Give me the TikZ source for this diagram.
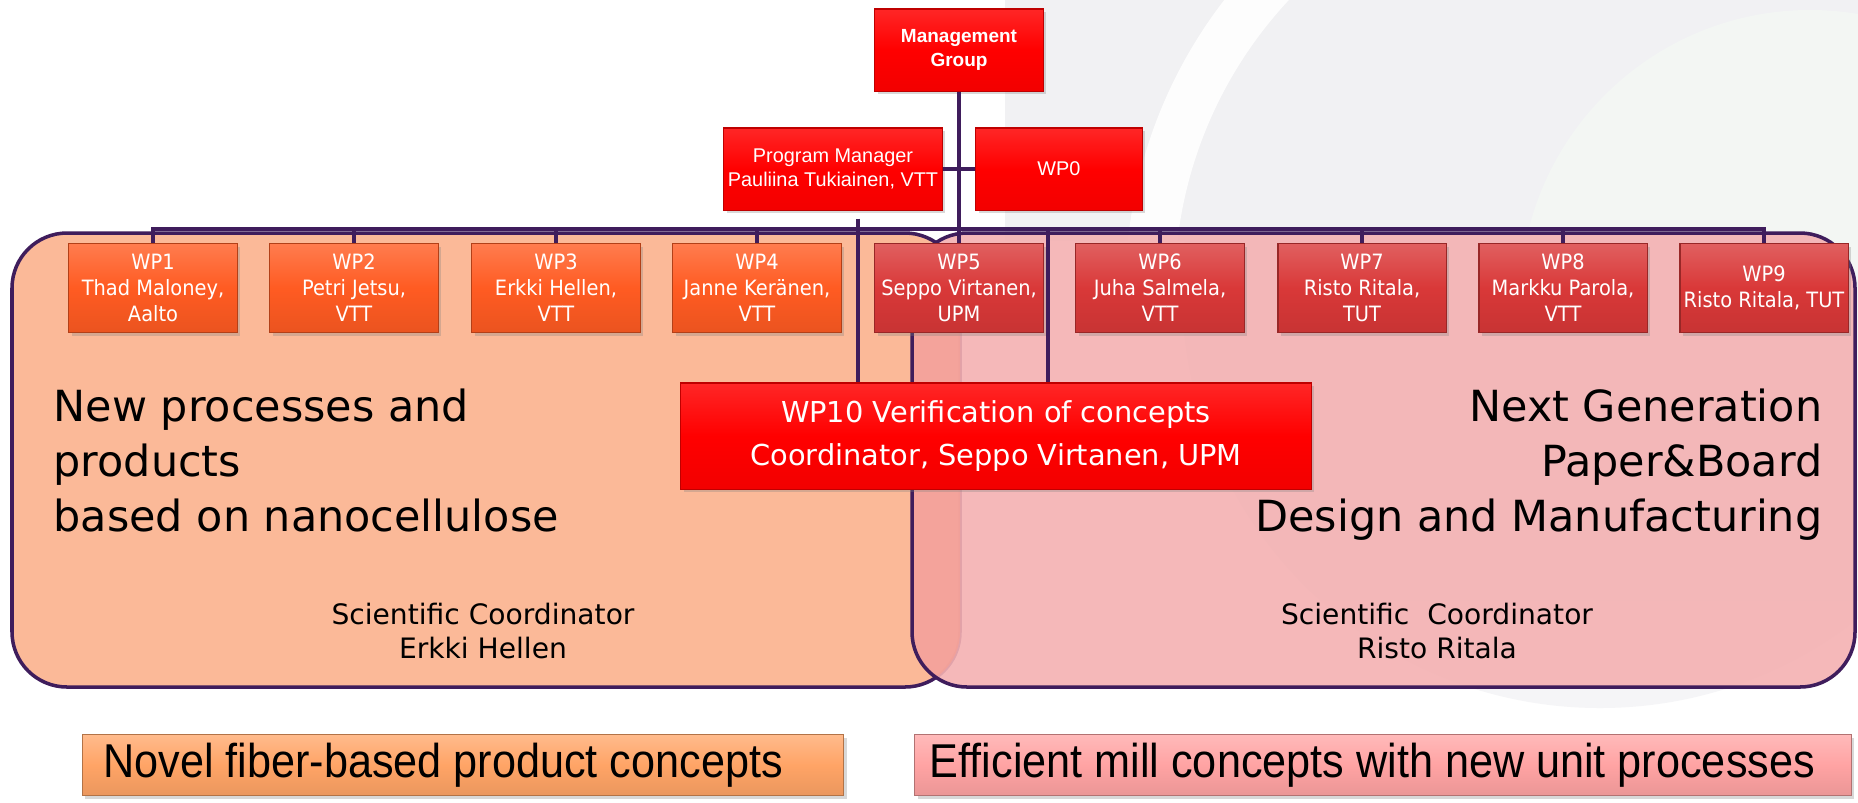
\documentclass[tikz,border=0pt]{standalone}
\usepackage{fontspec}
\setmainfont{DejaVu Sans}
\newfontfamily\arialfont{Liberation Sans}
\newfontfamily\narrowfont[FakeStretch=0.91]{Liberation Sans}
\newfontfamily\wpfont[FakeStretch=0.92]{DejaVu Sans}
\usetikzlibrary{calc, shadows, positioning}

\definecolor{linkpurple}{HTML}{3F1D5C}
\definecolor{leftfill}{HTML}{FBB998}
\definecolor{rightfill}{HTML}{F4B1B2}
\definecolor{overlapfill}{HTML}{F5A096}
\definecolor{bggrey}{HTML}{F1F1F3}
\definecolor{bgpale}{HTML}{F5F5F7}
\definecolor{bggreen}{HTML}{F3F6F3}
\definecolor{wporange}{HTML}{FF5B22}
\definecolor{wpcrimson}{HTML}{D93838}
\definecolor{sandbox}{HTML}{FFA466}
\definecolor{pinkbox}{HTML}{FFA3A3}

\tikzset{
  boxshadow/.style={drop shadow={opacity=0.3, shadow xshift=0.9pt, shadow yshift=-0.9pt}},
  redbox/.style={boxshadow, draw=red!75!black, line width=0.3pt,
    top color=red!85!white, bottom color=red!95!black, middle color=red,
    text=white, align=center, inner sep=0pt},
  wpbox/.style={boxshadow, line width=0.3pt, text=white, align=center,
    inner sep=0pt, minimum width=1.68cm, minimum height=0.89cm,
    font=\wpfont\fontsize{6}{7.4}\selectfont},
  wpleft/.style={wpbox, draw=wporange!70!black, top color=wporange!80!white,
    bottom color=wporange!92!black, middle color=wporange},
  wpright/.style={wpbox, draw=wpcrimson!70!black, top color=wpcrimson!80!white,
    bottom color=wpcrimson!92!black, middle color=wpcrimson},
  themebox/.style={boxshadow, line width=0.3pt, inner ysep=0pt,
    minimum height=0.61cm, font=\narrowfont\fontsize{13.5}{15}\selectfont},
  link/.style={draw=linkpurple, line width=1.1pt},
  region/.style={draw=linkpurple, line width=1pt, rounded corners=0.55cm}
}

\begin{document}
\begin{tikzpicture}[x=0.01cm, y=-0.01cm]
    \useasboundingbox (0,0) rectangle (1858,802);

    % Hintergrund
    \fill[white] (0,0) rectangle (1858,802);
    \begin{scope}
        \clip (1005,0) rectangle (1858,240);
        \fill[bggrey] (1600,280) circle (700);
    \end{scope}
    \begin{scope}
        \clip (0,0) rectangle (1858,802);
        \draw[white, line width=14pt, opacity=0.9] (1600,290) circle (450);
        \fill[bgpale] (1600,290) circle (418);
        \begin{scope}
            \clip (0,0) rectangle (1858,600);
            \fill[bggrey] (1600,290) circle (418);
        \end{scope}
        \fill[bggreen] (1810,300) circle (290);
    \end{scope}

    % Bereiche
    \path[region, fill=leftfill] (12,233) rectangle (960,687);
    \fill[rightfill, opacity=0.9, rounded corners=0.55cm] (912,233) rectangle (1855,687);
    \begin{scope}
        \clip[rounded corners=0.55cm] (12,233) rectangle (960,687);
        \fill[overlapfill, opacity=0.8, rounded corners=0.55cm] (912,233) rectangle (1855,687);
    \end{scope}
    \draw[region] (912,233) rectangle (1855,687);

    % Leitung
    \node[redbox, minimum width=1.68cm, minimum height=0.82cm,
          font=\arialfont\bfseries\fontsize{5.4}{6.8}\selectfont]
        (mg) at (959,50) {Management\\Group};
    \node[redbox, minimum width=2.18cm, minimum height=0.82cm,
          font=\arialfont\fontsize{5.65}{6.9}\selectfont]
        (pm) at (833,169) {Program Manager\\Pauliina Tukiainen, VTT};
    \node[redbox, minimum width=1.66cm, minimum height=0.82cm,
          font=\arialfont\fontsize{5.65}{6.9}\selectfont]
        (wp0) at (1059,169) {WP0};

    % Arbeitspakete
    \node[wpleft]  (wp1) at (153,288)  {WP1\\Thad Maloney,\\Aalto};
    \node[wpleft]  (wp2) at (354,288)  {WP2\\Petri Jetsu,\\VTT};
    \node[wpleft]  (wp3) at (556,288)  {WP3\\Erkki Hellen,\\VTT};
    \node[wpleft]  (wp4) at (757,288)  {WP4\\Janne Keränen,\\VTT};
    \node[wpright] (wp5) at (959,288)  {WP5\\Seppo Virtanen,\\UPM};
    \node[wpright] (wp6) at (1160,288) {WP6\\Juha Salmela,\\VTT};
    \node[wpright] (wp7) at (1362,288) {WP7\\Risto Ritala,\\TUT};
    \node[wpright] (wp8) at (1563,288) {WP8\\Markku Parola,\\VTT};
    \node[wpright] (wp9) at (1764,288) {WP9\\Risto Ritala, TUT};

    \node[redbox, minimum width=6.3cm, minimum height=1.06cm,
          font=\fontsize{8.2}{12}\selectfont]
        (wp10) at (996,436) {WP10 Verification of concepts\\Coordinator, Seppo Virtanen, UPM};

    % Verbindungen
    \coordinate (bus) at (0,229);
    \coordinate (pmdrop) at ($(pm.south)+(25,8)$);
    \coordinate (wpdrop) at ($(wp10.north)+(52,0)$);
    \draw[link] (mg) -- (wp5);
    \draw[link] (pm) -- (wp0);
    \draw[link] (wp1.north) -- (wp1.north |- bus) -- (wp9.north |- bus) -- (wp9.north);
    \foreach \i in {2,3,4,6,7,8}
        \draw[link] (wp\i.north) -- (wp\i.north |- bus);
    \draw[link] (pmdrop) -- (pmdrop |- wp10.north);
    \draw[link] (wpdrop |- bus) -- (wpdrop);

    % Texte
    \node[anchor=north west, align=left, inner sep=0pt,
          font=\fontsize{12.2}{15.6}\selectfont]
        (newproc) at (53,388) {New processes and\\products\\based on nanocellulose};
    \node[anchor=north east, align=right, inner sep=0pt,
          font=\fontsize{12.2}{15.6}\selectfont]
        (nextgen) at (1823,388) {Next Generation\\Paper\&Board\\Design and Manufacturing};
    \node[align=center, inner sep=0pt, font=\fontsize{8}{9.7}\selectfont]
        (scileft) at (483,631) {Scientific Coordinator\\Erkki Hellen};
    \node[align=center, inner sep=0pt, font=\fontsize{8}{9.7}\selectfont]
        (sciright) at (1437,631) {Scientific~~Coordinator\\Risto Ritala};

    % Schwerpunkte
    \node[themebox, draw=sandbox!70!black, top color=sandbox!75!white,
          bottom color=sandbox!92!black, middle color=sandbox, inner xsep=0.21cm]
        (novel) at (463,765) {\makebox[7.19cm][l]{Novel fiber-based product concepts}};
    \node[themebox, draw=pinkbox!70!black, top color=pinkbox!75!white,
          bottom color=pinkbox!92!black, middle color=pinkbox, inner xsep=0.15cm]
        (mill) at (1383,765) {\makebox[9.06cm][l]{Efficient mill concepts with new unit processes}};
\end{tikzpicture}
\end{document}
